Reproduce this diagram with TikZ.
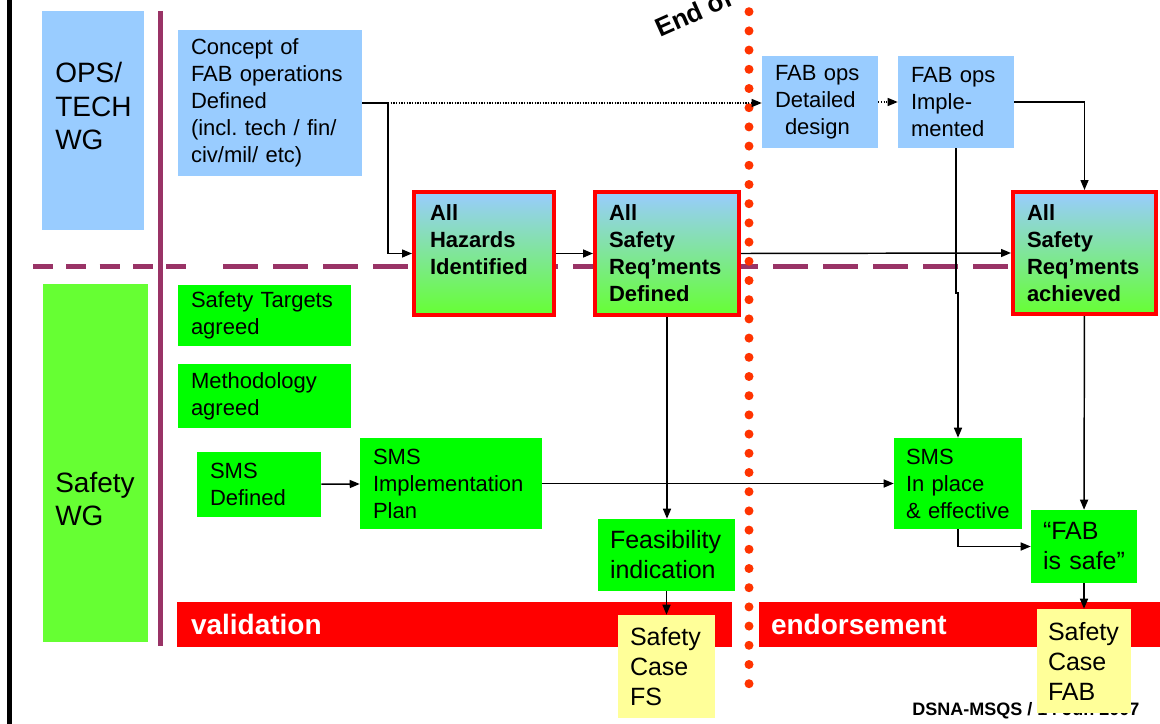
\documentclass[tikz,border=0pt]{standalone}
\usepackage{fontspec}
\setmainfont{Liberation Sans}
\usepackage{tikz}
\usetikzlibrary{arrows.meta,positioning,calc}
\usepackage{xcolor}
\frenchspacing

\definecolor{opsblue}{HTML}{99CCFF}
\definecolor{lanegreen}{HTML}{66FF33}
\definecolor{boxgreen}{HTML}{00FF00}
\definecolor{gradgreen}{HTML}{66FF33}
\definecolor{lanepurple}{HTML}{993366}
\definecolor{dotred}{HTML}{FF3300}
\definecolor{barred}{HTML}{FF0000}
\definecolor{caseyellow}{HTML}{FFFF99}

\newcommand{\txtnorm}{\fontsize{16.5}{20.25}\selectfont}
\newcommand{\txtbig}{\fontsize{18.75}{22.5}\selectfont}
\newcommand{\txtlane}{\fontsize{21}{25}\selectfont}
\newcommand{\txtbar}{\fontsize{21}{25}\selectfont\bfseries}
\newcommand{\txtfoot}{\fontsize{13.5}{16}\selectfont\bfseries}

\begin{document}
\begin{tikzpicture}[x=0.75pt, y=-0.75pt,
      lane/.style={inner sep=0pt},
      lanelbl/.style={inner sep=0pt, align=left, font=\txtlane},
      box/.style={inner xsep=9.75pt, inner ysep=0pt, align=left, font=\txtnorm},
      milestone/.style={box, draw=barred, line width=3pt, top color=opsblue, bottom color=gradgreen,
                        font=\txtnorm\bfseries, minimum height=92.25pt},
      bar/.style={fill=barred, text=white, font=\txtbar, minimum height=33.75pt, inner ysep=0pt, align=left},
      conn/.style={-{Triangle[length=7.5pt,width=6pt]}, line width=1.1pt},
      dotconn/.style={conn, line width=0.9pt, dash pattern=on 0.9pt off 1.1pt}]
    \useasboundingbox (0,0) rectangle (1160,724);
    \clip (0,0) rectangle (1160,724);

    % swim lanes
    \draw[line width=3.5pt] (9.5,0) -- (9.5,724);
    \node[lane, fill=opsblue, minimum width=76.5pt, minimum height=164.25pt] (opslane) at (93,120.5) {};
    \node[lanelbl, anchor=west] (opslbl) at (55,106) {OPS/\\TECH\\WG};
    \node[lane, fill=lanegreen, minimum width=78.75pt, minimum height=268.5pt] (safelane) at (95.5,463) {};
    \node[lanelbl, anchor=west] (safelbl) at (55,499) {Safety\\WG};
    \draw[lanepurple, line width=3.75pt] (160.5,11) -- (160.5,646);
    \draw[lanepurple, line width=3.75pt, dash pattern=on 15pt off 10pt] (33,266) -- (190,266);
    \draw[lanepurple, line width=3.75pt, dash pattern=on 26.25pt off 11.25pt] (223,266) -- (1160,266);

    % end of feasibility
    \node[font=\fontsize{19.5}{22}\selectfont\bfseries, rotate=24, anchor=base west, inner sep=0pt] (endof) at (660,38) {End of};
    \draw[dotred, line width=6.75pt, line cap=round, dash pattern=on 0pt off 14.4pt] (749,-7.5) -- (749,690);

    % phase bars
    \node[bar, text width=395.25pt, inner xsep=10.5pt] (valbar) at (454.5,624.5) {validation};
    \node[bar, text width=282.75pt, inner xsep=9pt] (endbar) at (959.5,624.5) {endorsement};
    \node[font=\txtfoot, anchor=base west, inner sep=0pt] (footer) at (912,715) {DSNA-MSQS / 14 Jun 2007};

    % ops / tech
    \node[box, fill=opsblue, text width=118.5pt, minimum height=109.5pt] (concept) at (270,103)
        {Concept of\\FAB operations\\Defined\\(incl. tech / fin/\\civ/mil/ etc)};
    \node[box, fill=opsblue, text width=67.5pt, minimum height=69pt] (detail) at (820,102) {FAB ops\\Detailed\\\hspace*{7.5pt}design};
    \node[box, fill=opsblue, text width=67.5pt, minimum height=69pt] (impl) at (956,102) {FAB ops\\Imple-\\mented};

    % milestones
    \node[milestone, text width=81pt, inner xsep=12pt] (hazards) at (484,253.5) {All\\Hazards\\Identified\\~};
    \node[milestone, text width=87pt, inner xsep=10.5pt] (reqdef) at (667,253.5) {All\\Safety\\Req’ments\\Defined};
    \node[milestone, text width=86.25pt, inner xsep=10.5pt, minimum height=91.5pt] (achieved) at (1084.5,253) {All\\Safety\\Req’ments\\achieved};

    % safety
    \node[box, fill=boxgreen, text width=110.25pt, minimum height=45.75pt] (targets) at (264.5,315.5) {Safety Targets\\agreed};
    \node[box, fill=boxgreen, text width=110.25pt, minimum height=48pt] (method) at (264.5,396) {Methodology\\agreed};
    \node[box, fill=boxgreen, text width=73.5pt, minimum height=48.75pt] (smsdef) at (259,484.5) {SMS\\Defined};
    \node[box, fill=boxgreen, text width=117pt, minimum height=68.25pt] (smsimpl) at (451,483.5) {SMS\\Implementation\\Plan};
    \node[box, fill=boxgreen, text width=78pt, inner xsep=9pt, minimum height=68.25pt] (smsplace) at (958,483.5) {SMS\\In place\\\& effective};
    \node[box, fill=boxgreen, font=\txtbig, text width=84.75pt, inner xsep=9pt, minimum height=54pt] (feas) at (666.5,555) {Feasibility\\indication};
    \node[box, fill=boxgreen, font=\txtbig, text width=61.5pt, inner xsep=9pt, minimum height=54.75pt] (fabsafe) at (1084,546.5) {“FAB\\is safe”};
    \node[box, fill=caseyellow, font=\txtbig, text width=54.75pt, inner xsep=9pt, minimum height=77.25pt] (casefs) at (666.5,666.5) {Safety\\Case\\FS};
    \node[box, fill=caseyellow, font=\txtbig, text width=54pt, inner xsep=8.25pt, minimum height=78pt] (casefab) at (1084,661) {Safety\\Case\\FAB};

    % connectors
    \coordinate (split) at (388,103);
    \coordinate (jog) at (958,293);
    \draw[conn] (concept.east) -- (split) |- (hazards.west);
    \draw[dotconn] (split) -- (detail.west |- split);
    \draw[dotconn] (detail) -- (impl);
    \draw[conn] (impl.east) -| (achieved.north);
    \draw[conn] (hazards) -- (reqdef);
    \draw[conn] (reqdef.east) -- (achieved.west);
    \draw[conn] (reqdef.south) -- (reqdef.south |- feas.north);
    \draw[conn] (feas) -- (casefs);
    \draw[conn] (impl.south) |- (jog) -- (smsplace.north);
    \draw[conn] (smsdef) -- (smsimpl);
    \draw[conn] (smsimpl) -- (smsplace);
    \draw[conn] (smsplace.south) |- (fabsafe.west);
    \draw[conn] (achieved) -- (fabsafe);
    \draw[conn] (fabsafe) -- (casefab);
  \end{tikzpicture}
\end{document}
